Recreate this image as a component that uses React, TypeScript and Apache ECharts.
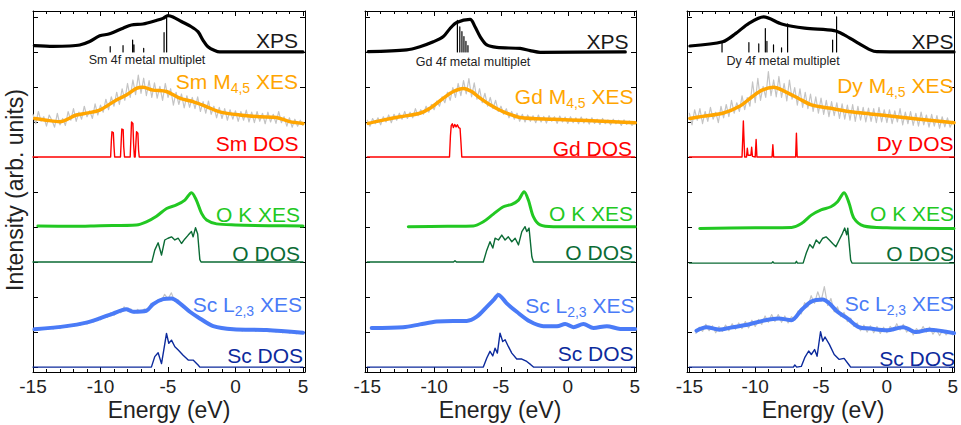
import React, { useEffect, useRef } from 'react';
import * as echarts from 'echarts';

const FONT = "'Liberation Sans', Arial, Helvetica, sans-serif";

// ---- axes ----
const X_MAJOR = [-15, -10, -5, 0, 5];
const X_MINOR = [-14, -13, -12, -11, -9, -8, -7, -6, -4, -3, -2, -1, 1, 2, 3, 4];
const Y_TICKS = [0, 1, 2, 3, 4, 5, 6, 7, 8, 9, 10];
const Y_MIN = -0.14;
const Y_MAX = 10.17;
const ELEMENTS = ['Sm', 'Gd', 'Dy'];
const XES_GRAY_STEP = 0.2;
const SC_GRAY_STEP = 0.25;

// ---- panel 1 (Sm) ----
const xps1 = [[-14.9, 9.18], [-13.5, 9.16], [-12.3, 9.17], [-11.54, 9.2], [-10.8, 9.3], [-10.06, 9.46], [-9.32, 9.52], [-8.33, 9.68], [-7.71, 9.77], [-6.85, 9.8], [-5.86, 9.9], [-5.37, 9.96], [-5.0, 10.04], [-4.63, 10.0], [-4.01, 9.87], [-3.27, 9.72], [-2.78, 9.58], [-2.41, 9.34], [-2.04, 9.15], [-1.54, 9.04], [-1.17, 9.0], [5.0, 9.0]];
const mult1 = [[-9.28, 9.15], [-8.33, 9.18], [-7.62, 9.34], [-7.52, 9.2], [-6.8, 9.1], [-5.29, 9.55], [-5.1, 10.04]];
const xes1 = [[-14.87, 7.1], [-14.0, 7.05], [-13.02, 7.01], [-11.79, 7.2], [-10.9, 7.26], [-10.06, 7.34], [-8.82, 7.63], [-8.08, 7.77], [-7.34, 7.96], [-6.85, 7.99], [-6.11, 7.91], [-5.12, 7.87], [-4.13, 7.68], [-3.15, 7.58], [-2.16, 7.44], [-1.17, 7.29], [0.31, 7.2], [1.79, 7.15], [3.03, 7.13], [4.01, 7.01], [5.0, 6.96]];
const xesGray1 = [
  7.22, 6.95, 7.3, 7.02, 7.15, 6.88, 7.2, 7.05, 6.85, 7.25, 6.92, 7.1, 6.9, 7.3, 7.05, 7.38, 7.02, 7.28, 7.08, 7.45, 7.15, 7.32, 7.1, 7.52, 7.2,
  7.48, 7.28, 7.65, 7.35, 7.72, 7.45, 7.85, 7.5, 7.95, 7.62, 8.1, 7.7, 8.2, 7.78, 8.34, 7.82, 8.25, 7.75, 8.18, 7.7, 8.12, 7.68, 8.02, 7.62, 8.1,
  7.7, 7.95, 7.48, 7.85, 7.5, 7.8, 7.4, 7.75, 7.42, 7.7, 7.38, 7.72, 7.3, 7.58, 7.25, 7.6, 7.22, 7.45, 7.12, 7.42, 7.1, 7.38, 7.05, 7.35, 7.08,
  7.32, 7.02, 7.3, 7.05, 7.34, 7.0, 7.28, 6.98, 7.3, 7.02, 7.25, 6.95, 7.28, 7.0, 7.22, 6.96, 7.3, 6.98, 7.15, 6.88, 7.12, 6.85, 7.08, 6.88, 7.05,
  6.9,
];
const dos1 = [[-15, 6], [-9.25, 6], [-9.19, 6.5], [-9.15, 6.72], [-9.05, 6.7], [-9.0, 6.3], [-8.95, 6], [-8.52, 6], [-8.46, 6.5], [-8.42, 6.8], [-8.32, 6.78], [-8.28, 6.3], [-8.22, 6], [-7.8, 6], [-7.74, 6.6], [-7.7, 7.0], [-7.6, 6.96], [-7.55, 6.4], [-7.49, 6], [-7.43, 6], [-7.37, 6.45], [-7.33, 6.72], [-7.23, 6.68], [-7.18, 6.2], [-7.13, 6], [5, 6]];
const ok1 = [[-14.64, 4.03], [-12, 4.02], [-10, 4.04], [-7.34, 4.06], [-6.6, 4.15], [-5.85, 4.31], [-5.1, 4.53], [-4.37, 4.63], [-3.75, 4.77], [-3.26, 4.98], [-2.9, 4.77], [-2.51, 4.39], [-2.14, 4.2], [-1.4, 4.09], [0, 4.06], [2.5, 4.04], [5, 4.03]];
const odos1 = [[-15, 3], [-6.2, 3], [-5.98, 3.34], [-5.73, 3.55], [-5.48, 3.2], [-5.24, 3.63], [-5.0, 3.68], [-4.74, 3.72], [-4.49, 3.63], [-4.24, 3.68], [-4.0, 3.53], [-3.75, 3.66], [-3.5, 3.77], [-3.26, 3.87], [-3.14, 3.72], [-2.96, 3.98], [-2.8, 3.8], [-2.64, 3.07], [-2.55, 3], [5, 3]];
const sc1 = [[-14.89, 1.08], [-12.54, 1.17], [-11.05, 1.27], [-10.06, 1.39], [-9.07, 1.53], [-8.08, 1.65], [-7.59, 1.58], [-6.6, 1.61], [-6.1, 1.8], [-5.36, 1.94], [-4.74, 1.96], [-4.12, 1.82], [-3.38, 1.58], [-2.64, 1.39], [-1.65, 1.17], [-0.17, 1.08], [2.31, 1.06], [5.0, 0.98]];
const scGray1 = [1.05, 1.12, 1.06, 1.13, 1.08, 1.14, 1.09, 1.16, 1.1, 1.18, 1.13, 1.2, 1.16, 1.24, 1.19, 1.28, 1.23, 1.32, 1.29, 1.4, 1.35, 1.45, 1.42, 1.55, 1.48, 1.6, 1.55, 1.72, 1.6, 1.66, 1.54, 1.65, 1.56, 1.66, 1.62, 1.82, 1.78, 1.92, 1.88, 2.08, 1.95, 2.12, 1.88, 1.92, 1.76, 1.74, 1.58, 1.58, 1.46, 1.46, 1.34, 1.32, 1.22, 1.22, 1.13, 1.16, 1.08, 1.13, 1.05, 1.11, 1.05, 1.1, 1.03, 1.1, 1.04, 1.09, 1.02, 1.09, 1.03, 1.08, 1.01, 1.07, 1.0, 1.06, 0.98, 1.04, 0.97, 1.02, 0.95, 1.0, 0.96];
const scdos1 = [[-15, 0], [-6.23, 0], [-5.98, 0.3], [-5.73, 0.41], [-5.48, 0.1], [-5.31, 0.49], [-5.11, 0.96], [-4.94, 0.68], [-4.74, 0.77], [-4.49, 0.58], [-4.24, 0.49], [-3.88, 0.34], [-3.5, 0.2], [-3.14, 0.2], [-2.77, 0.06], [-2.64, 0], [5, 0]];

// ---- panel 2 (Gd) ----
const xps2 = [[-14.93, 9.01], [-12.05, 9.06], [-11.06, 9.15], [-10.06, 9.29], [-9.31, 9.44], [-8.81, 9.67], [-8.31, 9.84], [-7.31, 9.93], [-6.94, 9.72], [-6.56, 9.44], [-6.06, 9.2], [-5.31, 9.13], [-3.57, 9.1], [-2.82, 9.04], [-2.07, 8.99], [4.3, 9.0]];
const mult2 = [[-8.26, 9.9], [-8.08, 9.72], [-7.92, 9.58], [-7.77, 9.44], [-7.62, 9.3], [-7.47, 9.18]];
const xes2 = [[-14.93, 6.96], [-14.0, 7.04], [-12.55, 7.15], [-11.06, 7.25], [-10.31, 7.39], [-9.31, 7.68], [-8.56, 7.87], [-7.81, 7.96], [-7.19, 7.87], [-6.56, 7.68], [-5.82, 7.49], [-4.82, 7.29], [-3.57, 7.13], [-1.08, 7.08], [1.42, 7.04], [5.04, 6.98]];
const xesGray2 = [
  7.05, 6.88, 7.1, 6.95, 7.12, 6.92, 7.15, 7.0, 7.2, 6.98, 7.22, 7.05, 7.25, 7.08, 7.3, 7.1, 7.28, 7.12, 7.38, 7.18, 7.35, 7.22, 7.45, 7.28, 7.5,
  7.35, 7.6, 7.45, 7.72, 7.55, 7.85, 7.62, 7.98, 7.7, 8.1, 7.75, 8.18, 7.8, 8.24, 7.72, 8.12, 7.65, 7.95, 7.55, 7.82, 7.45, 7.7, 7.38, 7.62, 7.3,
  7.45, 7.22, 7.38, 7.12, 7.3, 7.08, 7.25, 7.02, 7.22, 7.0, 7.2, 7.02, 7.18, 6.98, 7.2, 7.0, 7.16, 6.97, 7.18, 7.02, 7.15, 6.96, 7.17, 7.0, 7.14,
  6.96, 7.15, 6.98, 7.12, 6.95, 7.14, 6.97, 7.1, 6.94, 7.12, 6.96, 7.08, 6.93, 7.1, 6.95, 7.06, 6.92, 7.08, 6.95, 7.05, 6.9, 7.06, 6.93, 7.03, 6.9,
  7.0,
];
const dos2 = [[-15, 6], [-8.85, 6], [-8.78, 6.6], [-8.72, 6.9], [-8.64, 6.95], [-8.56, 6.84], [-8.46, 6.93], [-8.36, 6.86], [-8.26, 6.92], [-8.16, 6.84], [-8.06, 6.82], [-7.99, 6.4], [-7.93, 6], [5, 6]];
const ok2 = [[-11.93, 4.01], [-9, 4.02], [-7.07, 4.03], [-6.32, 4.15], [-5.57, 4.37], [-4.82, 4.58], [-4.19, 4.65], [-3.69, 4.77], [-3.27, 5.01], [-2.95, 4.77], [-2.57, 4.29], [-2.07, 4.06], [-1.08, 4.01], [5.04, 4.01]];
const odos2 = [[-15, 3], [-8.55, 3], [-8.44, 3.04], [-8.33, 3], [-6.32, 3], [-6.06, 3.34], [-5.82, 3.58], [-5.61, 3.4], [-5.44, 3.68], [-5.19, 3.63], [-4.94, 3.77], [-4.69, 3.63], [-4.45, 3.72], [-4.19, 3.58], [-3.94, 3.68], [-3.69, 3.49], [-3.44, 3.87], [-3.2, 4.01], [-3.07, 3.87], [-2.9, 3.97], [-2.69, 3.15], [-2.57, 3], [5, 3]];
const sc2 = [[-14.67, 1.12], [-12.3, 1.14], [-11.06, 1.22], [-9.81, 1.3], [-8.56, 1.32], [-7.56, 1.32], [-6.81, 1.44], [-6.06, 1.72], [-5.57, 1.91], [-5.19, 2.06], [-4.57, 1.82], [-3.82, 1.58], [-2.82, 1.3], [-1.83, 1.17], [-0.8, 1.17], [-0.2, 1.23], [0.42, 1.14], [1.17, 1.23], [1.92, 1.12], [2.92, 1.17], [3.92, 1.09], [5.04, 1.09]];
const scGray2 = [1.1, 1.14, 1.11, 1.15, 1.12, 1.15, 1.12, 1.16, 1.13, 1.17, 1.14, 1.19, 1.17, 1.22, 1.2, 1.25, 1.24, 1.28, 1.27, 1.31, 1.29, 1.33, 1.3, 1.34, 1.3, 1.34, 1.3, 1.33, 1.31, 1.36, 1.38, 1.47, 1.52, 1.66, 1.72, 1.86, 1.9, 2.12, 1.98, 1.92, 1.78, 1.74, 1.6, 1.6, 1.46, 1.42, 1.33, 1.31, 1.24, 1.23, 1.17, 1.19, 1.15, 1.19, 1.17, 1.2, 1.19, 1.25, 1.19, 1.16, 1.13, 1.18, 1.21, 1.24, 1.15, 1.13, 1.12, 1.15, 1.14, 1.19, 1.15, 1.13, 1.1, 1.12, 1.08, 1.11, 1.08, 1.11, 1.08];
const scdos2 = [[-15, 0], [-6.32, 0], [-6.06, 0.26], [-5.82, 0.45], [-5.61, 0.32], [-5.44, 0.54], [-5.27, 0.4], [-5.07, 0.97], [-4.87, 0.73], [-4.69, 0.78], [-4.45, 0.59], [-4.19, 0.4], [-3.82, 0.23], [-3.44, 0.23], [-3.07, 0.16], [-2.77, 0.07], [-2.57, 0], [5, 0]];

// ---- panel 3 (Dy) ----
const xps3 = [[-14.96, 9.17], [-12.47, 9.29], [-11.47, 9.53], [-10.48, 9.82], [-9.36, 10.0], [-7.99, 9.8], [-6.24, 9.68], [-4.0, 9.61], [-3.25, 9.49], [-2.25, 9.27], [-1.26, 9.06], [-0.76, 9.01], [5.1, 9.0]];
const mult3 = [[-12.52, 9.3], [-10.48, 9.27], [-9.73, 9.23], [-9.23, 9.67], [-9.11, 9.3], [-8.61, 9.2], [-8.0, 9.12], [-7.54, 9.8], [-4.12, 9.34], [-3.82, 10.0]];
const xes3 = [[-14.96, 7.1], [-14.0, 7.16], [-12.47, 7.25], [-11.22, 7.44], [-10.23, 7.72], [-9.48, 7.91], [-8.61, 7.99], [-7.73, 7.87], [-6.74, 7.68], [-5.74, 7.49], [-4.25, 7.39], [-2.75, 7.29], [-1.26, 7.23], [0.74, 7.15], [2.48, 7.08], [5.1, 6.98]];
const xesGray3 = [
  7.25, 6.92, 7.35, 7.05, 7.38, 6.95, 7.3, 7.02, 7.42, 7.08, 7.28, 6.98, 7.45, 7.12, 7.5, 7.15, 7.62, 7.25, 7.55, 7.3, 7.75, 7.35, 7.7, 7.45, 8.15,
  7.55, 8.25, 7.62, 8.02, 7.7, 8.44, 7.75, 8.2, 7.72, 8.3, 7.7, 8.1, 7.6, 8.2, 7.65, 7.98, 7.48, 7.95, 7.42, 7.85, 7.38, 7.8, 7.3, 7.72, 7.25,
  7.68, 7.22, 7.62, 7.15, 7.58, 7.18, 7.55, 7.1, 7.52, 7.08, 7.48, 7.05, 7.5, 7.02, 7.45, 7.05, 7.42, 7.0, 7.4, 7.02, 7.38, 6.98, 7.42, 7.0, 7.35,
  6.98, 7.35, 6.95, 7.32, 7.0, 7.38, 6.92, 7.28, 6.95, 7.3, 6.9, 7.25, 6.88, 7.28, 6.92, 7.2, 6.85, 7.22, 6.88, 7.18, 6.82, 7.15, 6.86, 7.12, 6.85,
  7.02,
];
const dos3 = [[-15, 6], [-11.0, 6], [-10.94, 6.6], [-10.9, 7.03], [-10.86, 6.6], [-10.8, 6], [-10.66, 6], [-10.6, 6.25], [-10.54, 6.05], [-10.33, 6.05], [-10.27, 6.28], [-10.21, 6.02], [-10.0, 6], [-9.93, 6.5], [-9.87, 6], [-8.72, 6], [-8.66, 6.35], [-8.6, 6], [-6.93, 6], [-6.87, 6.68], [-6.81, 6], [5.1, 6]];
const ok3 = [[-14.21, 3.96], [-10, 3.98], [-7.24, 3.99], [-6.49, 4.1], [-5.74, 4.34], [-5.0, 4.49], [-4.25, 4.58], [-3.75, 4.72], [-3.25, 4.98], [-2.87, 4.68], [-2.5, 4.25], [-1.75, 4.03], [0, 3.98], [5.1, 3.96]];
const odos3 = [[-15, 2.97], [-8.75, 2.97], [-8.66, 3.01], [-8.57, 2.97], [-6.95, 2.97], [-6.87, 3.02], [-6.79, 2.97], [-6.36, 2.97], [-6.12, 3.26], [-5.86, 3.5], [-5.62, 3.4], [-5.37, 3.63], [-5.12, 3.53], [-4.87, 3.68], [-4.62, 3.72], [-4.37, 3.63], [-4.12, 3.53], [-3.87, 3.44], [-3.62, 3.63], [-3.37, 3.82], [-3.2, 3.97], [-3.05, 3.78], [-2.97, 3.97], [-2.75, 3.06], [-2.65, 2.97], [5.1, 2.97]];
const sc3 = [[-14.46, 1.04], [-13.71, 1.14], [-12.72, 1.07], [-11.72, 1.14], [-10.72, 1.2], [-9.23, 1.34], [-8.23, 1.39], [-7.24, 1.34], [-6.49, 1.63], [-5.74, 1.87], [-4.87, 1.93], [-4.37, 1.82], [-3.75, 1.58], [-3.0, 1.39], [-2.13, 1.14], [-1.26, 1.1], [-0.01, 1.05], [1.24, 1.14], [2.23, 1.0], [3.23, 1.07], [5.1, 0.97]];
const scGray3 = [
  0.96, 1.14, 1.02, 1.22, 1.04, 1.18, 0.98, 1.16, 1.02, 1.2, 1.04, 1.24, 1.08, 1.26, 1.1, 1.3, 1.12, 1.34, 1.16, 1.36,
  1.22, 1.46, 1.28, 1.5, 1.3, 1.5, 1.28, 1.46, 1.26, 1.44, 1.34, 1.6, 1.52, 1.84, 1.72, 2.04, 1.82, 2.15, 1.88, 2.3,
  1.76, 1.96, 1.58, 1.72, 1.44, 1.56, 1.3, 1.4, 1.16, 1.26, 1.04, 1.2, 1.0, 1.18, 0.98, 1.16, 0.96, 1.14, 0.98, 1.16,
  1.04, 1.24, 1.06, 1.22, 1.0, 1.12, 0.92, 1.1, 0.98, 1.16, 1.0, 1.14, 0.94, 1.08, 0.9, 1.06, 0.92, 1.02, 0.92,
];
const scdos3 = [[-15, 0], [-7.1, 0], [-6.99, 0.06], [-6.85, 0], [-6.5, 0.02], [-6.24, 0.27], [-5.94, 0.46], [-5.74, 0.36], [-5.49, 0.5], [-5.3, 0.31], [-5.04, 1.01], [-4.87, 0.74], [-4.7, 0.86], [-4.37, 0.65], [-4.0, 0.36], [-3.62, 0.22], [-3.25, 0.25], [-2.87, 0.06], [-2.75, 0], [5.1, 0]];

const MULT_BASE = 9.0;
const XES_GRAY_START = [-15, -15, -15];
const SC_GRAY_START = [-15, -14.5, -14.5];

const PANEL_DATA = [
  { xps: xps1, mult: mult1, xes: xes1, xesGray: xesGray1, dos: dos1, ok: ok1, odos: odos1, sc: sc1, scGray: scGray1, scdos: scdos1 },
  { xps: xps2, mult: mult2, xes: xes2, xesGray: xesGray2, dos: dos2, ok: ok2, odos: odos2, sc: sc2, scGray: scGray2, scdos: scdos2 },
  { xps: xps3, mult: mult3, xes: xes3, xesGray: xesGray3, dos: dos3, ok: ok3, odos: odos3, sc: sc3, scGray: scGray3, scdos: scdos3 },
];

// ---- layout (pixels) ----
const GRID_TOP = 11;
const GRID_H = 361;
const PANELS = [
  { left: 33, width: 272, xMin: -15.0, xMax: 5.15 },
  { left: 365, width: 271, xMin: -15.17, xMax: 5.1 },
  { left: 687, width: 272, xMin: -15.18, xMax: 5.12 },
];
const LABELS = [
  { xps: [298, 40], mult: [147, 60], xes: [298, 82.5], dos: [298.5, 143.5], ok: [300, 214.7], odos: [300, 253.3], sc: [302, 306.3], scdos: [303, 355.8], energy: 169 },
  { xps: [628.5, 41], mult: [473, 61.5], xes: [633.5, 98], dos: [632, 148.3], ok: [633, 213.3], odos: [633, 252], sc: [634.5, 306.7], scdos: [633.5, 353.3], energy: 500 },
  { xps: [953.5, 41.5], mult: [783, 61], xes: [953.5, 87], dos: [953.5, 143], ok: [954, 213.3], odos: [954, 253], sc: [954, 305], scdos: [955, 358.3], energy: 823 },
];

const C = {
  black: '#000000', orange: '#FFA500', red: '#FF0000', green: '#22C822', dgreen: '#0B6B35',
  blue: '#4A7BF7', navy: '#0C2A9C', gray: '#C4C4C4', text: '#1a1a1a',
};

const grayPairs = (start: number, step: number, vals: number[]) => vals.map((v, i) => [Math.round((start + i * step) * 100) / 100, v]);
const barPairs = (bars: number[][]) => bars.flatMap(([x, top]) => [[x, MULT_BASE], [x, top], [x, '-']]);

function buildOption() {
  const grids: any[] = [];
  const xAxes: any[] = [];
  const yAxes: any[] = [];
  const series: any[] = [];
  const graphic: any[] = [];
  const lineCol = { color: '#000', width: 1 };

  PANELS.forEach((p, i) => {
    grids.push({ left: p.left, width: p.width, top: GRID_TOP, height: GRID_H, containLabel: false });
    const base = {
      type: 'value', gridIndex: i, min: p.xMin, max: p.xMax,
      splitLine: { show: false }, axisLabel: { show: false }, axisTick: { show: false },
      axisLine: { show: false, onZero: false },
    };
    xAxes.push({
      ...base, position: 'bottom',
      axisLine: { show: true, onZero: false, lineStyle: lineCol },
      axisTick: { show: true, inside: true, length: 5, customValues: X_MAJOR, lineStyle: lineCol },
      axisLabel: { show: true, customValues: X_MAJOR, margin: 5, fontSize: 19, color: '#222', fontFamily: FONT },
    });
    xAxes.push({ ...base, position: 'bottom', axisTick: { show: true, inside: true, length: 3, customValues: X_MINOR, lineStyle: lineCol } });
    xAxes.push({
      ...base, position: 'top',
      axisLine: { show: true, onZero: false, lineStyle: lineCol },
      axisTick: { show: true, inside: true, length: 5, customValues: X_MAJOR, lineStyle: lineCol },
    });
    xAxes.push({ ...base, position: 'top', axisTick: { show: true, inside: true, length: 3, customValues: X_MINOR, lineStyle: lineCol } });
    ['left', 'right'].forEach((pos) => yAxes.push({
      type: 'value', gridIndex: i, position: pos, min: Y_MIN, max: Y_MAX,
      splitLine: { show: false }, axisLabel: { show: false },
      axisLine: { show: true, onZero: false, lineStyle: lineCol },
      axisTick: { show: true, inside: true, length: 5, customValues: Y_TICKS, lineStyle: lineCol },
    }));

    const d = PANEL_DATA[i];
    const add = (data: any[], color: string, width: number, z: number, smooth: any = false) => series.push({
      type: 'line', xAxisIndex: i * 4, yAxisIndex: i * 2, data, symbol: 'none', showSymbol: false,
      smooth, z, silent: true, connectNulls: false, clip: true,
      lineStyle: { color, width, join: 'round', cap: 'round' },
    });
    add(grayPairs(XES_GRAY_START[i], XES_GRAY_STEP, d.xesGray), C.gray, 1.2, 1);
    add(grayPairs(SC_GRAY_START[i], SC_GRAY_STEP, d.scGray), C.gray, 1.2, 1);
    add(d.xps, C.black, 3.2, 3, 0.3);
    add(barPairs(d.mult), C.black, 1.2, 3);
    add(d.xes, C.orange, 3.5, 3, 0.3);
    add(d.dos, C.red, 1.4, 3);
    add(d.ok, C.green, 3, 3, 0.3);
    add(d.odos, C.dgreen, 1.4, 3);
    add(d.sc, C.blue, 4, 3, 0.3);
    add(d.scdos, C.navy, 1.4, 3);

    const L = LABELS[i];
    const el = ELEMENTS[i];
    const txt = (pos: number[], text: string, color: string, size = 21, align = 'right') => ({
      type: 'text', x: pos[0], y: pos[1], silent: true, z: 10,
      style: { text, fill: color, fontSize: size, fontFamily: FONT, align, verticalAlign: 'middle' },
    });
    const rich = (pos: number[], a: string, sub: string, b: string, color: string) => ({
      type: 'text', x: pos[0], y: pos[1], silent: true, z: 10,
      style: {
        text: `{m|${a}}{s|${sub}}{m|${b}}`, fill: color, fontSize: 21, fontFamily: FONT,
        align: 'right', verticalAlign: 'middle',
        rich: {
          m: { fontSize: 21, fontFamily: FONT, fill: color, lineHeight: 24, verticalAlign: 'top' },
          s: { fontSize: 14, fontFamily: FONT, fill: color, lineHeight: 14, verticalAlign: 'bottom' },
        },
      },
    });
    graphic.push(txt(L.xps, 'XPS', C.text));
    graphic.push(txt(L.mult, `${el} 4f metal multiplet`, '#222', 12.5, 'center'));
    graphic.push(rich(L.xes, `${el} M`, '4,5', ' XES', C.orange));
    graphic.push(txt(L.dos, `${el} DOS`, C.red));
    graphic.push(txt(L.ok, 'O K XES', C.green));
    graphic.push(txt(L.odos, 'O DOS', C.dgreen));
    graphic.push(rich(L.sc, 'Sc L', '2,3', ' XES', C.blue));
    graphic.push(txt(L.scdos, 'Sc DOS', C.navy));
    graphic.push(txt([L.energy, 410], 'Energy (eV)', '#222', 23, 'center'));
  });

  graphic.push({
    type: 'text', x: 15, y: 190, rotation: Math.PI / 2, silent: true,
    style: { text: 'Intensity (arb. units)', fill: '#222', fontSize: 23, fontFamily: FONT, align: 'center', verticalAlign: 'middle' },
  });

  return {
    animation: false,
    backgroundColor: '#ffffff',
    grid: grids,
    xAxis: xAxes,
    yAxis: yAxes,
    series,
    graphic,
  };
}

export default function App() {
  const ref = useRef<HTMLDivElement>(null);
  useEffect(() => {
    if (!ref.current) return;
    const chart = echarts.init(ref.current, undefined, { renderer: 'svg' });
    chart.setOption(buildOption() as any);
    return () => chart.dispose();
  }, []);
  return <div ref={ref} style={{ position: 'fixed', left: 0, top: 0, width: 961, height: 425, background: '#fff' }} />;
}
